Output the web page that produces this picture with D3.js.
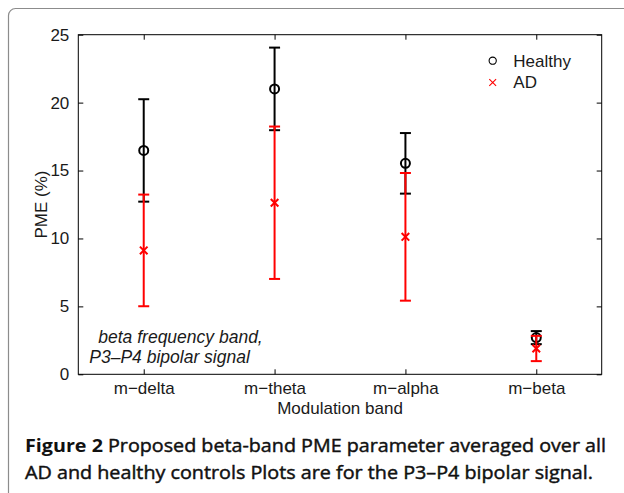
<!DOCTYPE html>
<html>
<head>
<meta charset="utf-8">
<script src="https://cdn.jsdelivr.net/npm/d3@7"></script>
<style>
  html, body { margin: 0; padding: 0; background: #fff; }
  svg { display: block; }
</style>
</head>
<body>
<script>
// ---- data ----
const categories = ["m\u2212delta", "m\u2212theta", "m\u2212alpha", "m\u2212beta"];
const healthyMean = [16.48, 21.01, 15.53, 2.70];
const healthyErr  = [3.77, 3.04, 2.23, 0.48];
const adMean      = [9.12, 12.63, 10.12, 1.90];
const adErr       = [4.11, 5.61, 4.70, 0.93];
const yTicks = [0, 5, 10, 15, 20, 25];
const seriesNames = ["Healthy", "AD"];
const yLabel = "PME (%)";
const xLabel = "Modulation band";
const noteLines = ["beta frequency band,", "P3\u2013P4 bipolar signal"];

// ---- layout ----
const W = 624, H = 493;
const svg = d3.select("body").append("svg").attr("width", W).attr("height", H);

// frame
svg.append("rect")
  .attr("x", 8.5).attr("y", 8.5).attr("width", 660).attr("height", 560)
  .attr("rx", 7).attr("ry", 7)
  .attr("fill", "none").attr("stroke", "#8c8c8c").attr("stroke-width", 1.2);

const L = 78.3, R = 601.7, T = 34.7, B = 374.3;
const x = d3.scaleLinear().domain([0.5, 4.5]).range([L, R]);
const y = d3.scaleLinear().domain([0, 25]).range([B, T]);
const font = "'Liberation Sans', Arial, Helvetica, sans-serif";
const fs = 17;

const g = svg.append("g");

// axis box
g.append("rect").attr("x", L).attr("y", T).attr("width", R - L).attr("height", B - T)
  .attr("fill", "none").attr("stroke", "#000").attr("stroke-width", 1);

const idx = categories.map((d, i) => i + 1);
const tl = 5;
// bottom axis
const xAxisB = d3.axisBottom(x).tickValues(idx).tickFormat((d) => categories[d - 1])
  .tickSizeInner(-tl).tickSizeOuter(0).tickPadding(7.5);
const gxb = g.append("g").attr("transform", `translate(0,${B})`).call(xAxisB);
// top axis
const xAxisT = d3.axisTop(x).tickValues(idx).tickFormat("").tickSizeInner(-tl).tickSizeOuter(0);
const gxt = g.append("g").attr("transform", `translate(0,${T})`).call(xAxisT);
// left axis
const yAxisL = d3.axisLeft(y).tickValues(yTicks).tickFormat(d3.format("d"))
  .tickSizeInner(-tl).tickSizeOuter(0).tickPadding(9);
const gyl = g.append("g").attr("transform", `translate(${L},0)`).call(yAxisL);
// right axis
const yAxisR = d3.axisRight(y).tickValues(yTicks).tickFormat("").tickSizeInner(-tl).tickSizeOuter(0);
const gyr = g.append("g").attr("transform", `translate(${R},0)`).call(yAxisR);

[gxb, gxt, gyl, gyr].forEach(a => {
  a.select(".domain").remove();
  a.selectAll(".tick line").attr("stroke", "#000").attr("stroke-width", 1);
  a.selectAll(".tick text").attr("font-family", font).attr("font-size", fs).attr("fill", "#1a1a1a");
});
gxb.selectAll(".tick text").attr("dy", "0.71em");

// axis labels
g.append("text").attr("x", (L + R) / 2).attr("y", 413.5).attr("text-anchor", "middle")
  .attr("font-family", font).attr("font-size", fs).attr("fill", "#1a1a1a").text(xLabel);
g.append("text").attr("transform", `translate(47,${(T + B) / 2}) rotate(-90)`)
  .attr("text-anchor", "middle").attr("font-family", font).attr("font-size", fs)
  .attr("fill", "#1a1a1a").text(yLabel);

// error bars
const capW = 5.5;
function drawErr(means, errs, color) {
  const data = means.map((m, i) => ({ xi: i + 1, m, e: errs[i] }));
  const eg = g.append("g").attr("stroke", color).attr("stroke-width", 2).attr("fill", "none");
  data.forEach(d => {
    const cx = x(d.xi);
    eg.append("line").attr("x1", cx).attr("x2", cx).attr("y1", y(d.m - d.e)).attr("y2", y(d.m + d.e));
    eg.append("line").attr("x1", cx - capW).attr("x2", cx + capW).attr("y1", y(d.m + d.e)).attr("y2", y(d.m + d.e));
    eg.append("line").attr("x1", cx - capW).attr("x2", cx + capW).attr("y1", y(d.m - d.e)).attr("y2", y(d.m - d.e));
  });
  return { eg, data };
}
const h = drawErr(healthyMean, healthyErr, "#000");
h.data.forEach(d => {
  h.eg.append("circle").attr("cx", x(d.xi)).attr("cy", y(d.m)).attr("r", 4.5);
});
const a = drawErr(adMean, adErr, "#ff0000");
a.data.forEach(d => {
  const cx = x(d.xi), cy = y(d.m), s = 3.8;
  a.eg.append("path").attr("d", `M${cx - s},${cy - s}L${cx + s},${cy + s}M${cx - s},${cy + s}L${cx + s},${cy - s}`);
});

// legend
const lg = g.append("g");
lg.append("circle").attr("cx", 492.7).attr("cy", 60.7).attr("r", 3.6)
  .attr("fill", "none").attr("stroke", "#000").attr("stroke-width", 1.1);
const s2 = 3.4, ax = 492.7, ay = 82.5;
lg.append("path").attr("d", `M${ax - s2},${ay - s2}L${ax + s2},${ay + s2}M${ax - s2},${ay + s2}L${ax + s2},${ay - s2}`)
  .attr("stroke", "#ff0000").attr("stroke-width", 1.1);
lg.append("text").attr("x", 513.3).attr("y", 66.7).attr("font-family", font).attr("font-size", fs)
  .attr("fill", "#1a1a1a").text(seriesNames[0]);
lg.append("text").attr("x", 513.3).attr("y", 88.4).attr("font-family", font).attr("font-size", fs)
  .attr("fill", "#1a1a1a").text(seriesNames[1]);

// note
g.append("text").attr("x", 98.3).attr("y", 343.3).attr("font-family", font).attr("font-size", 17.5)
  .attr("font-style", "italic").attr("fill", "#1a1a1a").text(noteLines[0]);
g.append("text").attr("x", 89.3).attr("y", 363.3).attr("font-family", font).attr("font-size", 17.5)
  .attr("font-style", "italic").attr("fill", "#1a1a1a").text(noteLines[1]);

// caption
const capFont = "'Open Sans', 'Noto Sans', sans-serif";
const c1 = svg.append("text").attr("x", 25).attr("y", 452.3).attr("font-family", capFont)
  .attr("font-size", 18.5).attr("fill", "#111")
  .attr("textLength", 581).attr("lengthAdjust", "spacingAndGlyphs");
c1.append("tspan").attr("font-weight", "bold").text("Figure 2");
c1.append("tspan").attr("font-weight", 400).attr("stroke", "#111").attr("stroke-width", 0.45)
  .text(" Proposed beta-band PME parameter averaged over all");
svg.append("text").attr("x", 25).attr("y", 479.3).attr("font-family", capFont)
  .attr("font-size", 18.5).attr("fill", "#111").attr("font-weight", 400)
  .attr("stroke", "#111").attr("stroke-width", 0.45)
  .attr("textLength", 568).attr("lengthAdjust", "spacingAndGlyphs")
  .text("AD and healthy controls Plots are for the P3\u2013P4 bipolar signal.");
</script>
</body>
</html>
